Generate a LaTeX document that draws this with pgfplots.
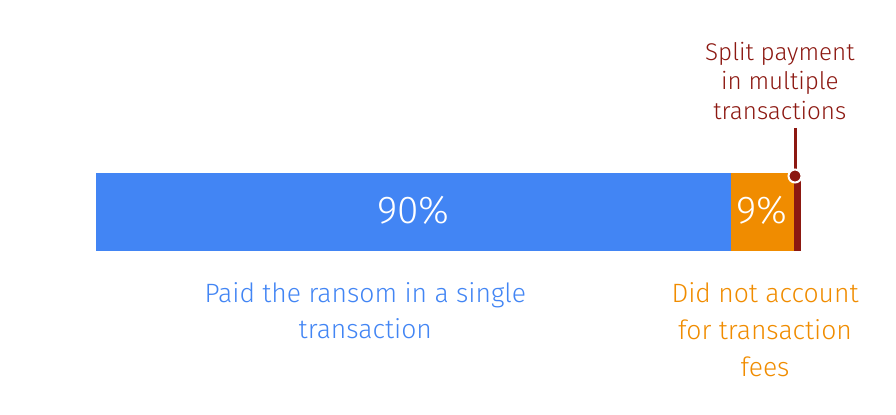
\documentclass[border=0pt]{standalone}
\usepackage{pgfplots}
\pgfplotsset{compat=1.18}
\usepackage{fontspec}
\setmainfont{Fira Sans Light}
\definecolor{gblue}{HTML}{4285F4}
\definecolor{gorange}{HTML}{F08C00}
\definecolor{gred}{HTML}{8C1811}
\begin{document}
\begin{tikzpicture}
\useasboundingbox (0,0) rectangle (896bp,415bp);
\begin{axis}[
  at={(0,0)}, anchor=south west,
  scale only axis,
  width=896bp, height=415bp,
  hide axis,
  clip=false,
  xbar stacked,
  bar width=78,
  xmin=-13.617, xmax=113.475,
  ymin=0, ymax=415,
]
\addplot[fill=gblue, draw=none] coordinates {(90,203)};
\addplot[fill=gorange, draw=none] coordinates {(9,203)};
\addplot[fill=gred, draw=none] coordinates {(1,203)};
\coordinate (l90) at (axis cs:45,205);
\coordinate (l9) at (axis cs:94.5,205);
\coordinate (ltop) at (axis cs:99.15,287);
\coordinate (ldot) at (axis cs:99.15,239);
\node[gblue, align=center, font=\fontsize{26.6}{36}\selectfont] at (axis cs:38.2,104) {Paid the ransom in a single\\transaction};
\node[gorange, align=center, font=\fontsize{26.6}{37}\selectfont] at (axis cs:94.9,85) {Did not account\\for transaction\\fees};
\node[gred, align=center, font=\fontsize{24.3}{30}\selectfont] at (axis cs:97,334) {Split payment\\in multiple\\transactions};
\end{axis}
\node[white, font=\fontsize{39}{39}\selectfont] at (l90) {90\%};
\node[white, font=\fontsize{39}{39}\selectfont] at (l9) {9\%};
\draw[gred, line width=3bp] (ltop) -- (ldot);
\draw[fill=gred, draw=white, line width=2bp] (ldot) circle[radius=6.5bp];
\end{tikzpicture}
\end{document}
